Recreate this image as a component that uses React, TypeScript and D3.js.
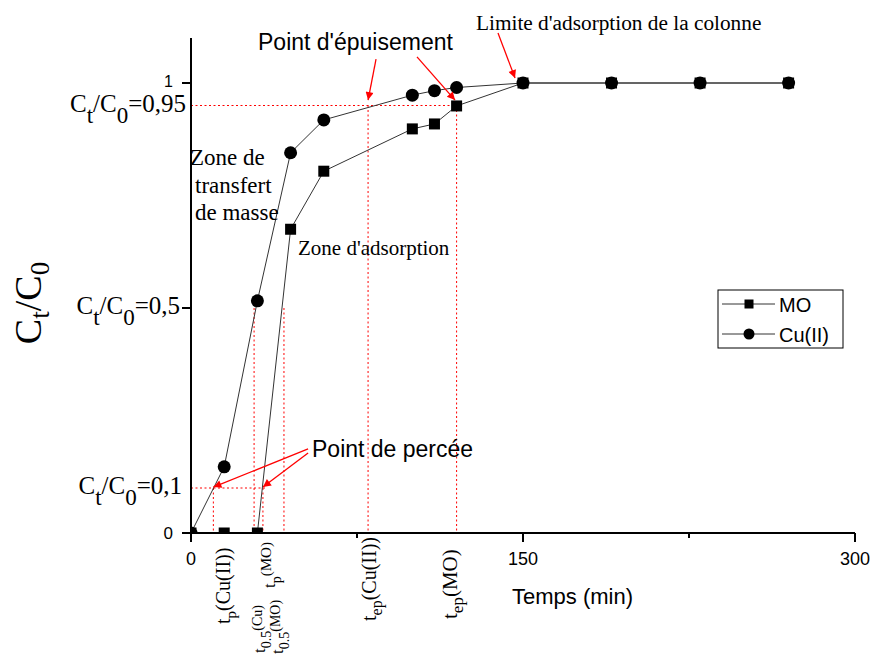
import React from "react";
import * as d3 from "d3";

// Breakthrough curves of the fixed-bed column
const times = [0, 15, 30, 45, 60, 100, 110, 120, 150, 190, 230, 270];
const moValues = [0, 0, 0, 0.675, 0.804, 0.898, 0.909, 0.949, 1, 1, 1, 1];
const cuValues = [0, 0.147, 0.516, 0.845, 0.918, 0.973, 0.983, 0.99, 1, 1, 1, 1];

const xTicks = [0, 150, 300];
const xMinorTicks = [75, 225];
const yTicks = [0, 0.5, 1];

// Characteristic ratio levels and times (min)
const levelBreak = 0.1;
const levelHalf = 0.5;
const levelExh = 0.95;
const tBreakCu = 10.1;
const tHalfCu = 28.5;
const tBreakMO = 32.5;
const tHalfMO = 42;
const tExhCu = 80;
const tExhMO = 120;

const W = 871;
const H = 655;
const serif = "'Liberation Serif', 'Times New Roman', serif";
const sans = "'Liberation Sans', Arial, sans-serif";
const RED = "#ff0000";

export default function App() {
  const x = d3.scaleLinear().domain([0, 300]).range([191, 855]);
  const y = d3.scaleLinear().domain([0, 1.1]).range([533, 38]);
  const lineGen = d3
    .line<number>()
    .x((_, i) => x(times[i]))
    .y((d) => y(d));

  // annotation arrows, [t0, v0, t1, v1] in data units
  const arrows: [number, number, number, number][] = [
    [83.6, 1.053, tExhCu, 0.962],
    [102.1, 1.058, 119.3, 0.962],
    [138.7, 1.111, 146.4, 1.011],
    [52.9, 0.187, tBreakCu, 0.102],
    [52.9, 0.178, tBreakMO, 0.102],
  ];

  const dotted = { stroke: RED, strokeWidth: 1, strokeDasharray: "2,2.5", fill: "none" };

  const ratioLabel = (v: number, xr: number, txt: string) => (
    <text x={xr} y={y(v) + 6} textAnchor="end" fontFamily={serif} fontSize={25} fill="#000">
      C<tspan dy={11} fontSize={23}>t</tspan>
      <tspan dy={-11}>/C</tspan>
      <tspan dy={11} fontSize={23}>0</tspan>
      <tspan dy={-11}>{txt}</tspan>
    </text>
  );

  const vLabel = (
    key: string,
    bx: number,
    by: number,
    size: number,
    sub: string,
    subSize: number,
    tail: string,
    tailShift: number,
    tailSize: number
  ) => (
    <text
      key={key}
      transform={`translate(${bx},${by}) rotate(-90)`}
      fontFamily={serif}
      fontSize={size}
      fill="#000"
    >
      t<tspan dy={6} fontSize={subSize}>{sub}</tspan>
      <tspan dy={-6 + tailShift} fontSize={tailSize}>{tail}</tspan>
    </text>
  );

  return (
    <svg
      width={W}
      height={H}
      style={{ position: "absolute", left: 0, top: 0, background: "#fff" }}
    >
      <defs>
        <clipPath id="plotClip">
          <rect x={x(0)} y={0} width={W - x(0)} height={y(0)} />
        </clipPath>
        <marker
          id="arrowHead"
          viewBox="0 0 10 10"
          refX={10}
          refY={5}
          markerWidth={13}
          markerHeight={8}
          markerUnits="userSpaceOnUse"
          orient="auto"
        >
          <path d="M0,0 L10,5 L0,10 Z" fill={RED} />
        </marker>
      </defs>
      <rect width={W} height={H} fill="#fff" />

      {/* reference levels */}
      <line x1={x(0)} x2={x(tExhMO)} y1={y(levelExh)} y2={y(levelExh)} {...dotted} />
      <line x1={x(0)} x2={x(34)} y1={y(levelBreak)} y2={y(levelBreak)} {...dotted} />
      {[
        [tBreakCu, levelBreak],
        [tBreakMO, levelBreak],
        [tHalfCu, levelHalf],
        [tHalfMO, levelHalf],
        [tExhCu, levelExh],
        [tExhMO, levelExh],
      ].map(([t, v], i) => (
        <line key={"v" + i} x1={x(t)} x2={x(t)} y1={y(v)} y2={y(0)} {...dotted} />
      ))}

      {/* series */}
      <g clipPath="url(#plotClip)">
        <path d={lineGen(moValues) || ""} fill="none" stroke="#333" strokeWidth={1} />
        <path d={lineGen(cuValues) || ""} fill="none" stroke="#333" strokeWidth={1} />
        {cuValues.map((v, i) => (
          <circle key={"c" + i} cx={x(times[i])} cy={y(v)} r={6.5} fill="#000" />
        ))}
        {moValues.map((v, i) => (
          <rect key={"m" + i} x={x(times[i]) - 5.5} y={y(v) - 5.5} width={11} height={11} fill="#000" />
        ))}
      </g>

      {/* axes */}
      <line x1={x(0)} x2={x(300)} y1={y(0)} y2={y(0)} stroke="#000" strokeWidth={2} />
      <line x1={x(0)} x2={x(0)} y1={y(0) + 1} y2={y(1.1)} stroke="#000" strokeWidth={2} />
      {xTicks.map((t) => (
        <g key={"xt" + t}>
          <line x1={x(t)} x2={x(t)} y1={y(0)} y2={y(0) + 9} stroke="#000" strokeWidth={2} />
          <text x={x(t)} y={565} textAnchor="middle" fontFamily={sans} fontSize={18}>
            {t}
          </text>
        </g>
      ))}
      {xMinorTicks.map((t) => (
        <line key={"xm" + t} x1={x(t)} x2={x(t)} y1={y(0)} y2={y(0) + 5} stroke="#000" strokeWidth={2} />
      ))}
      {yTicks.map((v) => (
        <line key={"yt" + v} x1={x(0) - 9} x2={x(0)} y1={y(v)} y2={y(v)} stroke="#000" strokeWidth={2} />
      ))}
      <text x={173} y={y(1) + 4} textAnchor="end" fontFamily={sans} fontSize={16}>1</text>
      <text x={173} y={y(0) + 6} textAnchor="end" fontFamily={sans} fontSize={17}>0</text>

      {ratioLabel(levelExh, 186, "=0,95")}
      {ratioLabel(levelHalf, 180, "=0,5")}
      {ratioLabel(levelBreak, 182, "=0,1")}

      {/* axis titles */}
      <text x={512} y={604} fontFamily={sans} fontSize={22}>Temps (min)</text>
      <text
        transform="translate(41,303) rotate(-90)"
        textAnchor="middle"
        fontFamily={serif}
        fontSize={38}
      >
        C<tspan dy={8} fontSize={27}>t</tspan>
        <tspan dy={-8}>/C</tspan>
        <tspan dy={8} fontSize={27}>0</tspan>
      </text>

      {/* characteristic time labels */}
      {vLabel("tpcu", 230, 624, 20, "p", 15, "(Cu(II))", 0, 20)}
      {vLabel("tepcu", 376, 621, 20, "ep", 16, "(Cu(II))", 0, 20)}
      {vLabel("tepmo", 457, 619, 21, "ep", 17, "(MO)", 0, 21)}
      {vLabel("t05cu", 265, 653, 17, "0.5", 14, "(Cu)", -3, 14)}
      {vLabel("t05mo", 283, 654, 17, "0.5", 14, "(MO)", -3, 14)}
      {vLabel("tpmo", 275, 588, 17, "p", 14, "(MO)", -4, 15)}

      {/* zone labels */}
      <g fontFamily={serif} fontSize={23}>
        <text x={190} y={165}>Zone de</text>
        <text x={195} y={193}>transfert</text>
        <text x={195} y={220}>de masse</text>
      </g>
      <text x={298} y={255} fontFamily={serif} fontSize={21}>Zone d'adsorption</text>

      {/* point annotations */}
      <text x={258} y={50} fontFamily={sans} fontSize={23}>Point d'épuisement</text>
      <text x={476} y={30} fontFamily={serif} fontSize={21.3}>Limite d'adsorption de la colonne</text>
      <text x={312} y={457} fontFamily={sans} fontSize={23}>Point de percée</text>
      {arrows.map(([t0, v0, t1, v1], i) => (
        <line
          key={"a" + i}
          x1={x(t0)}
          y1={y(v0)}
          x2={x(t1)}
          y2={y(v1)}
          stroke={RED}
          strokeWidth={1.3}
          markerEnd="url(#arrowHead)"
        />
      ))}

      {/* legend */}
      <g>
        <rect x={718} y={290} width={125} height={58} fill="#fff" stroke="#000" strokeWidth={1} />
        <line x1={722} x2={775} y1={304} y2={304} stroke="#333" strokeWidth={1} />
        <rect x={744.5} y={299.5} width={9} height={9} fill="#000" />
        <text x={779} y={312} fontFamily={sans} fontSize={20}>MO</text>
        <line x1={722} x2={775} y1={334} y2={334} stroke="#333" strokeWidth={1} />
        <circle cx={749} cy={334} r={5.5} fill="#000" />
        <text x={779} y={342} fontFamily={sans} fontSize={20}>Cu(II)</text>
      </g>
    </svg>
  );
}
